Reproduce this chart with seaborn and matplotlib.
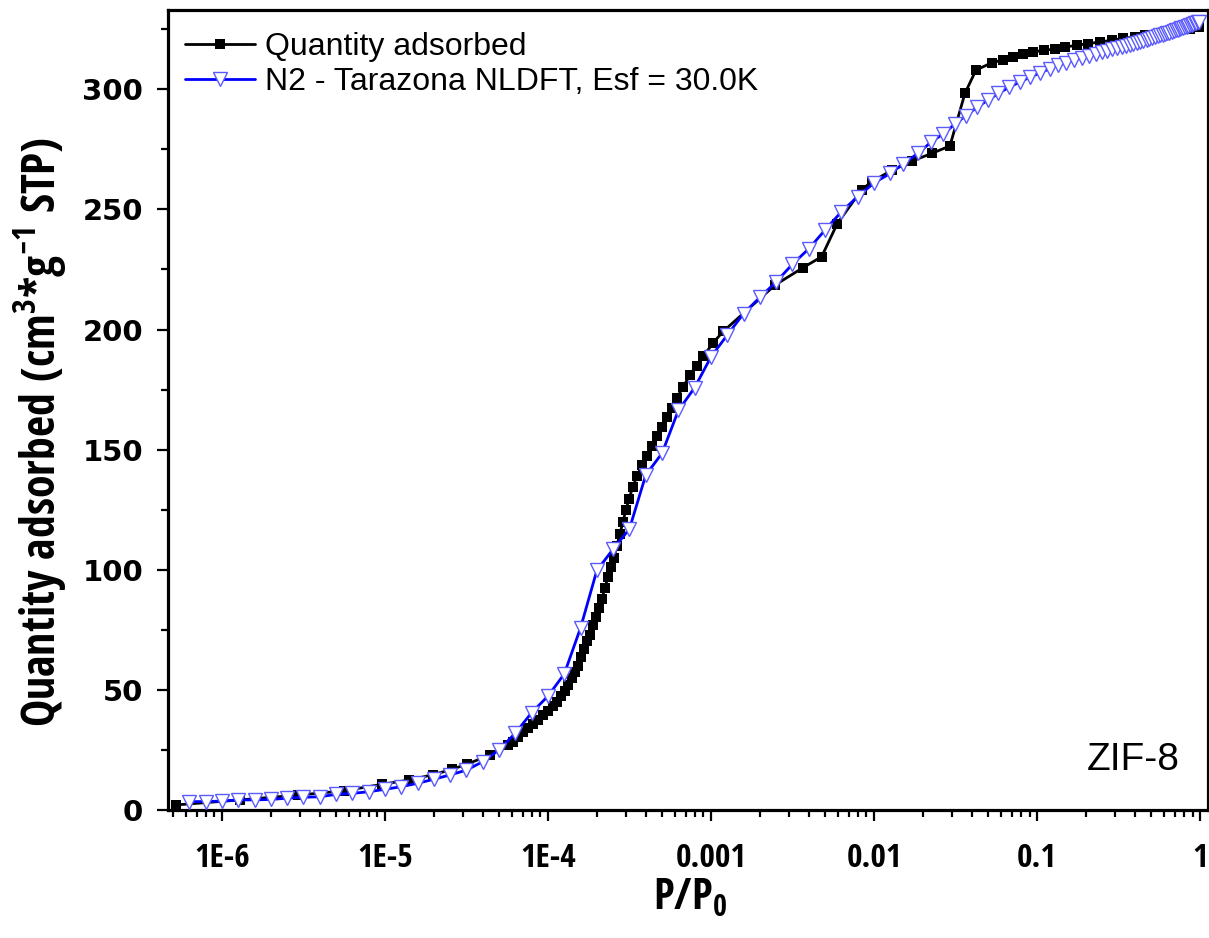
import matplotlib
matplotlib.use("Agg")
import matplotlib.pyplot as plt
import matplotlib.ticker as mticker
from matplotlib import font_manager as fm
import numpy as np
import pandas as pd
import seaborn as sns

# ---------------- data ----------------
log_p_measured = [
    -6.282, -5.890, -5.532, -5.250, -5.017, -4.851, -4.704, -4.591, -4.499, -4.356,
    -4.244, -4.215, -4.184, -4.153, -4.123, -4.092, -4.061, -4.031, -4.000, -3.969,
    -3.945, -3.920, -3.896, -3.874, -3.853, -3.834, -3.816, -3.798, -3.779, -3.761,
    -3.742, -3.724, -3.706, -3.687, -3.669, -3.650, -3.632, -3.613, -3.595, -3.577,
    -3.558, -3.540, -3.521, -3.503, -3.479, -3.454, -3.423, -3.393, -3.362, -3.331,
    -3.301, -3.270, -3.239, -3.209, -3.172, -3.129, -3.086, -3.047, -2.986, -2.925,
    -2.607, -2.434, -2.321, -2.225, -2.075, -2.014, -1.890, -1.767, -1.646, -1.534,
    -1.442, -1.374, -1.278, -1.207, -1.145, -1.084, -1.023, -0.955, -0.890, -0.828,
    -0.756, -0.685, -0.614, -0.538, -0.471, -0.399, -0.337, -0.245, -0.153, -0.061,
    -0.006,
]
q_measured = [
    2.1, 4.2, 6.2, 8.0, 10.7, 12.5, 14.7, 16.9, 19.0, 22.9,
    27.0, 28.5, 30.2, 32.3, 34.2, 35.9, 37.5, 39.5, 41.3, 43.2,
    45.0, 47.3, 49.5, 52.0, 55.0, 57.5, 60.0, 63.5, 67.0, 70.5,
    73.0, 77.0, 80.5, 84.0, 88.0, 92.5, 97.0, 101.0, 105.0, 110.0,
    115.0, 120.0, 125.0, 129.5, 134.5, 139.0, 143.5, 147.5, 151.5, 155.5,
    159.5, 163.5, 167.5, 171.5, 176.0, 181.0, 185.0, 188.8, 194.5, 199.2,
    218.5, 225.8, 230.3, 244.1, 258.2, 261.5, 266.3, 270.1, 273.3, 276.4,
    298.3, 308.0, 311.0, 312.3, 313.4, 314.6, 315.5, 316.3, 316.7, 317.6,
    318.3, 319.0, 319.7, 320.4, 321.3, 321.7, 322.5, 323.3, 324.2, 325.0,
    325.8,
]

log_p_nldft = [
    -6.2, -6.1, -6.0, -5.9, -5.8, -5.7, -5.6, -5.5, -5.4, -5.3,
    -5.2, -5.1, -5.0, -4.9, -4.8, -4.7, -4.6, -4.5, -4.4, -4.3,
    -4.2, -4.1, -4.0, -3.9, -3.8, -3.7, -3.6, -3.5, -3.4, -3.3,
    -3.2, -3.1, -3.0, -2.9, -2.8, -2.7, -2.6, -2.5, -2.4, -2.3,
    -2.2, -2.1, -2.0, -1.9,
    -1.819, -1.727, -1.650, -1.574, -1.503, -1.436, -1.368, -1.301, -1.236, -1.172,
    -1.107, -1.043, -0.982, -0.923, -0.868,
    -0.824, -0.770, -0.721, -0.678, -0.638, -0.602, -0.569, -0.538, -0.509, -0.481,
    -0.456, -0.432, -0.409, -0.387, -0.367, -0.347, -0.328, -0.310, -0.292, -0.276,
    -0.260, -0.244, -0.229, -0.215, -0.201, -0.187, -0.174, -0.161, -0.149, -0.137,
    -0.125, -0.114, -0.102, -0.092, -0.081, -0.071, -0.060, -0.051, -0.041, -0.032,
    -0.022, -0.013, -0.004,
]
q_nldft = [
    3.5, 3.5, 3.7, 4.2, 4.2, 4.4, 4.9, 5.3, 5.5, 6.5,
    6.9, 7.6, 8.6, 9.7, 11.1, 12.8, 14.6, 16.6, 20.1, 25.0,
    32.0, 40.5, 47.4, 56.6, 75.8, 99.7, 108.6, 117.0, 139.4, 148.5,
    166.3, 175.8, 188.6, 197.7, 206.6, 213.4, 219.8, 227.2, 233.6, 241.4,
    249.0, 255.3, 261.0, 265.0,
    269.0, 273.5, 278.0, 281.5, 285.5, 289.0, 292.5, 295.5, 298.3, 300.8,
    303.0, 305.0, 306.8, 308.5, 310.0,
    311.0, 312.2, 313.2, 314.0, 314.7, 315.4, 316.0, 316.6, 317.1, 317.6,
    318.1, 318.6, 319.0, 319.4, 319.8, 320.2, 320.6, 321.0, 321.3, 321.7,
    322.0, 322.4, 322.7, 323.0, 323.3, 323.6, 323.9, 324.2, 324.5, 324.8,
    325.0, 325.3, 325.6, 325.8, 326.1, 326.4, 326.6, 326.9, 327.1, 327.4,
    327.6, 327.8, 328.0,
]

series_labels = ["Quantity adsorbed", "N2 - Tarazona NLDFT, Esf = 30.0K"]
x_tick_values = [1e-6, 1e-5, 1e-4, 1e-3, 1e-2, 1e-1, 1.0]
x_tick_labels = ["1E-6", "1E-5", "1E-4", "0.001", "0.01", "0.1", "1"]
y_tick_values = [0, 50, 100, 150, 200, 250, 300]
sample_name = "ZIF-8"

# ---------------- style ----------------
sns.set_theme(style="ticks")
entries = fm.fontManager.ttflist
names = {f.name for f in entries}
narrow_info = [(f.name, str(f.stretch)) for f in entries
               if ("Condensed" in f.name or "Narrow" in f.name
                   or str(f.stretch) in ("condensed", "semi-condensed", "extra-condensed",
                                         "ultra-condensed"))]
pref = ["Open Sans Condensed", "Noto Sans Condensed", "Roboto Condensed",
        "Liberation Sans Narrow", "DejaVu Sans"]
cond_family, cond_stretch = "DejaVu Sans", "condensed"
for p in pref:
    hits = [e for e in narrow_info if e[0] == p]
    if hits:
        cond_family = p
        cond_stretch = hits[0][1]
        break

plain = "Liberation Sans" if "Liberation Sans" in names else "DejaVu Sans"
plt.rcParams["font.family"] = [plain, "DejaVu Sans"]
for k in ("text.color", "axes.labelcolor", "xtick.color", "ytick.color", "axes.edgecolor"):
    plt.rcParams[k] = "black"
pattern = f"{cond_family}:bold:stretch={cond_stretch}"
plt.rcParams["mathtext.fontset"] = "custom"
plt.rcParams["mathtext.rm"] = pattern
plt.rcParams["mathtext.bf"] = pattern
plt.rcParams["mathtext.it"] = pattern
plt.rcParams["mathtext.default"] = "bf"

df_m = pd.DataFrame({"p": np.power(10.0, log_p_measured), "q": q_measured})
df_n = pd.DataFrame({"p": np.power(10.0, log_p_nldft), "q": q_nldft})

fig = plt.figure(figsize=(12.09, 9.38), dpi=100)
ax = fig.add_axes([168 / 1209, 1 - 810 / 938, 1040 / 1209, 800 / 938])

sns.lineplot(data=df_m, x="p", y="q", ax=ax, color="black", linewidth=2.0,
             marker="s", markersize=7.5, markeredgewidth=0, markeredgecolor="black",
             estimator=None, sort=False, label=series_labels[0], zorder=2)
sns.lineplot(data=df_n, x="p", y="q", ax=ax, color="#0000ff", linewidth=2.0,
             marker="v", markersize=10.5, markerfacecolor="white",
             markeredgecolor="#5a5aff", markeredgewidth=1.0,
             estimator=None, sort=False, label=series_labels[1], zorder=3)

ax.set_xscale("log")
ax.set_xlim(4.67e-7, 1.12)
ax.set_ylim(0, 333)

ax.xaxis.set_major_locator(mticker.FixedLocator(x_tick_values))
ax.xaxis.set_major_formatter(mticker.FixedFormatter(x_tick_labels))
ax.xaxis.set_minor_locator(mticker.LogLocator(base=10, subs=np.arange(2, 10), numticks=30))
ax.xaxis.set_minor_formatter(mticker.NullFormatter())
ax.yaxis.set_major_locator(mticker.FixedLocator(y_tick_values))
ax.yaxis.set_minor_locator(mticker.MultipleLocator(25))

for s in ax.spines.values():
    s.set_linewidth(2.3)
    s.set_color("black")
    s.set_visible(True)

ax.tick_params(axis="both", which="major", direction="out", length=8, width=1.6,
               color="black", labelcolor="black", top=False, right=False)
ax.tick_params(axis="both", which="minor", direction="out", length=5, width=1.6,
               color="black", top=False, right=False)
ax.tick_params(axis="x", which="major", pad=15)
ax.tick_params(axis="y", which="major", pad=10)

for lab in ax.get_xticklabels():
    lab.set_fontfamily([cond_family, "DejaVu Sans"])
    lab.set_fontweight("bold")
    lab.set_fontstretch(cond_stretch)
    lab.set_fontsize(24)
for lab in ax.get_yticklabels():
    lab.set_fontfamily(["DejaVu Sans"])
    lab.set_fontweight("bold")
    lab.set_fontsize(21)

ax.set_xlabel(r"$P/P_{0}$", fontsize=31)
ax.set_ylabel(r"Quantity adsorbed (cm$^{3}$*g$^{-1}$ STP)", fontsize=33,
              fontfamily=[cond_family, "DejaVu Sans"], fontweight="bold",
              fontstretch=cond_stretch)
ax.xaxis.set_label_coords(0.502, -0.083)
ax.yaxis.set_label_coords(-0.096, 0.472)

handles, _ = ax.get_legend_handles_labels()
leg = ax.legend(handles=handles, labels=series_labels, loc="upper left",
                bbox_to_anchor=(0.016, 0.972), borderaxespad=0, borderpad=0,
                frameon=False, fontsize=23, handlelength=2.2, handletextpad=0.3,
                labelspacing=0.15)

ax.text(0.973, 0.0625, sample_name, transform=ax.transAxes, ha="right", va="center",
        fontsize=28, color="black")

fig.savefig("out.png", dpi=100)
